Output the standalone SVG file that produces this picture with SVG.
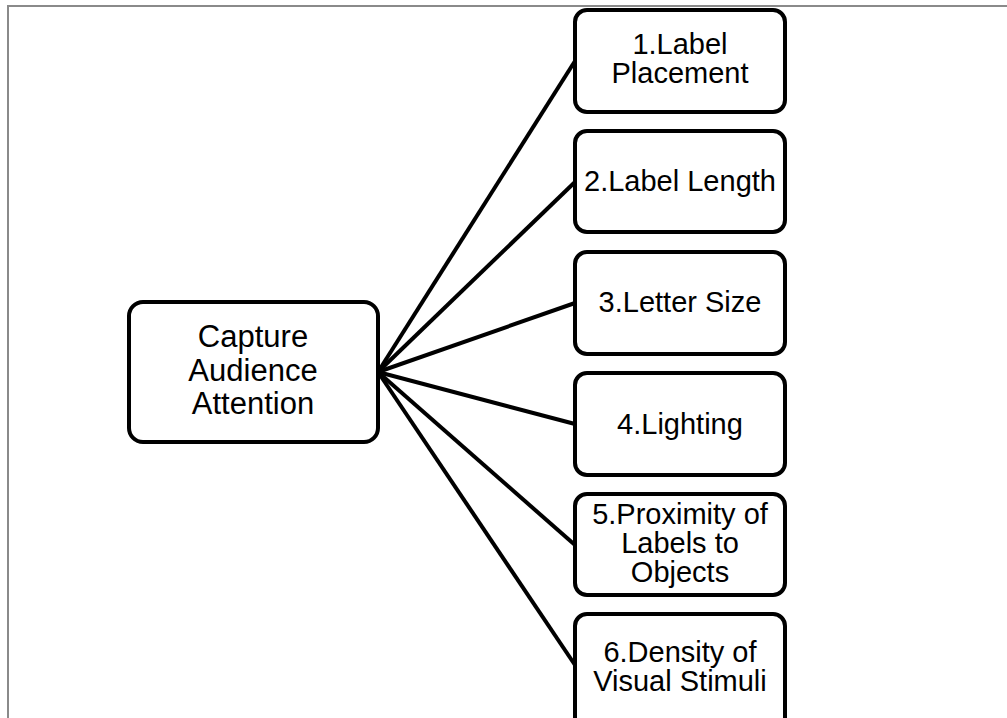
<svg xmlns="http://www.w3.org/2000/svg" width="1007" height="718" viewBox="0 0 1007 718">
  <style>
    .frame { fill: none; stroke: #8a8a8a; stroke-width: 2; }
    .box { fill: #ffffff; stroke: #000000; stroke-width: 4; }
    .link { stroke: #000000; stroke-width: 4; fill: none; }
    text { font-family: "Liberation Sans", Arial, sans-serif; fill: #000000; text-anchor: middle; }
    .main { font-size: 31px; }
    .item { font-size: 29px; }
  </style>
  <rect width="1007" height="718" fill="#ffffff"/>
  <!-- page frame -->
  <path class="frame" d="M8 718 V6 H1007"/>

  <!-- connectors from the central topic to each factor -->
  <g id="connectors">
    <line class="link" x1="378" y1="372" x2="575" y2="61"/>
    <line class="link" x1="378" y1="372" x2="575" y2="182"/>
    <line class="link" x1="378" y1="372" x2="575" y2="303"/>
    <line class="link" x1="378" y1="372" x2="575" y2="424"/>
    <line class="link" x1="378" y1="372" x2="575" y2="545"/>
    <line class="link" x1="378" y1="372" x2="575" y2="665"/>
  </g>

  <g id="node-main">
    <rect class="box" x="129" y="302" width="249" height="140" rx="14"/>
    <text class="main" x="253" y="347">Capture</text>
    <text class="main" x="253" y="381">Audience</text>
    <text class="main" x="253" y="414">Attention</text>
  </g>

  <g id="node-1">
    <rect class="box" x="575" y="10" width="210" height="102" rx="12"/>
    <text class="item" x="680" y="54">1.Label</text>
    <text class="item" x="680" y="83">Placement</text>
  </g>

  <g id="node-2">
    <rect class="box" x="575" y="131" width="210" height="101" rx="12"/>
    <text class="item" x="680" y="191">2.Label Length</text>
  </g>

  <g id="node-3">
    <rect class="box" x="575" y="252" width="210" height="102" rx="12"/>
    <text class="item" x="680" y="312">3.Letter Size</text>
  </g>

  <g id="node-4">
    <rect class="box" x="575" y="373" width="210" height="102" rx="12"/>
    <text class="item" x="680" y="434">4.Lighting</text>
  </g>

  <g id="node-5">
    <rect class="box" x="575" y="494" width="210" height="101" rx="12"/>
    <text class="item" x="680" y="524">5.Proximity of</text>
    <text class="item" x="680" y="553">Labels to</text>
    <text class="item" x="680" y="582">Objects</text>
  </g>

  <g id="node-6">
    <rect class="box" x="575" y="614" width="210" height="120" rx="12"/>
    <text class="item" x="680" y="662">6.Density of</text>
    <text class="item" x="680" y="691">Visual Stimuli</text>
  </g>
</svg>
